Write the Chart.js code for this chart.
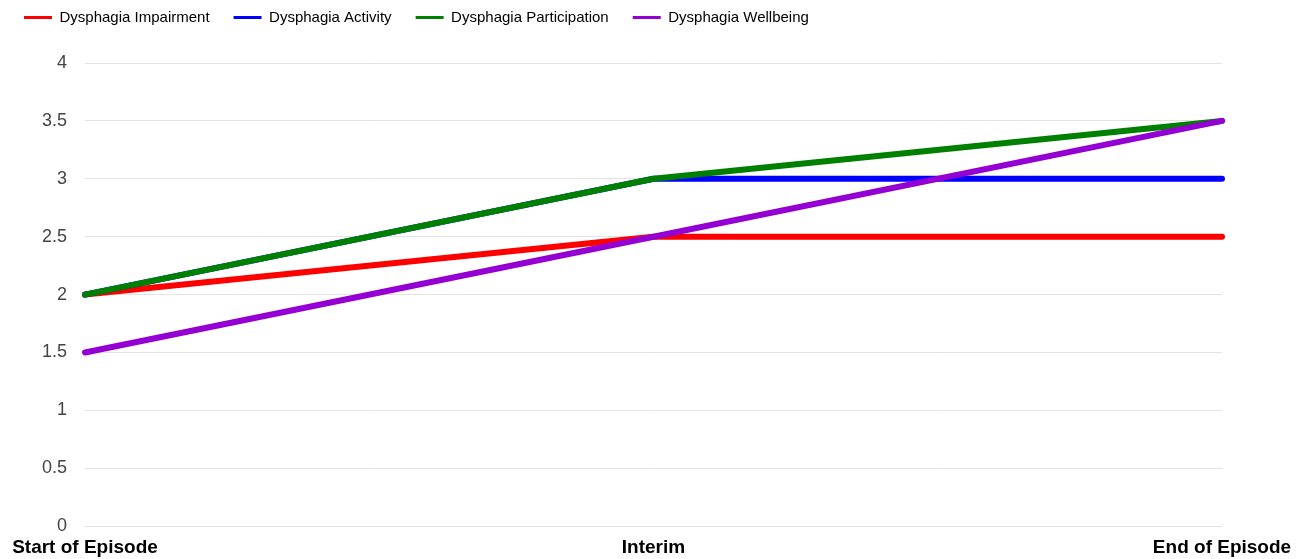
<!DOCTYPE html>
<html>
<head>
<meta charset="utf-8">
<script src="https://cdn.jsdelivr.net/npm/chart.js@4.4.0/dist/chart.umd.min.js"></script>
<style>
  html, body { margin: 0; padding: 0; background: #fff; }
  #wrap { width: 1308px; height: 559px; position: relative; }
</style>
</head>
<body>
<div id="wrap"><canvas id="chart"></canvas></div>
<script>
// data
const stages = ['Start of Episode', 'Interim', 'End of Episode'];
const impairment = [2, 2.5, 2.5];
const activity = [2, 3, 3];
const participation = [2, 3, 3.5];
const wellbeing = [1.5, 2.5, 3.5];
const seriesNames = ['Dysphagia Impairment', 'Dysphagia Activity', 'Dysphagia Participation', 'Dysphagia Wellbeing'];
const seriesColors = ['#ff0000', '#0000ff', '#008000', '#9400d3'];

const FONT = "'Liberation Sans', Arial, sans-serif";

// push the plot area down below the legend
const legendGap = {
  id: 'legendGap',
  beforeInit(chart) {
    const fit = chart.legend.fit;
    chart.legend.fit = function () {
      fit.bind(chart.legend)();
      this.height += 28;
    };
  }
};

const series = [impairment, activity, participation, wellbeing];
const datasets = series.map((vals, i) => ({
  label: seriesNames[i],
  data: vals,
  borderColor: seriesColors[i],
  backgroundColor: seriesColors[i],
  borderWidth: 6,
  borderCapStyle: 'round',
  borderJoinStyle: 'round',
  pointRadius: 0,
  pointHoverRadius: 0,
  tension: 0,
  order: series.length - i   // later series drawn on top
}));

new Chart(document.getElementById('chart'), {
  type: 'line',
  data: { labels: stages, datasets },
  plugins: [legendGap],
  options: {
    responsive: true,
    maintainAspectRatio: false,
    animation: false,
    layout: { padding: { left: 0, right: 86, top: -14, bottom: -10 } },
    plugins: {
      tooltip: { enabled: false },
      legend: {
        position: 'top',
        align: 'start',
        labels: {
          boxWidth: 28,
          boxHeight: 3,
          padding: 24,
          color: '#222',
          font: { family: FONT, size: 15 },
          generateLabels(chart) {
            return chart.data.datasets.map((ds, i) => ({
              text: ds.label,
              fillStyle: ds.borderColor,
              strokeStyle: ds.borderColor,
              lineWidth: 0,
              datasetIndex: i,
              hidden: false
            }));
          }
        }
      }
    },
    scales: {
      x: {
        offset: false,
        grid: { display: false, drawTicks: false },
        border: { display: false },
        ticks: {
          color: '#000',
          padding: 10,
          maxRotation: 0,
          font: { family: FONT, size: 19, weight: 'bold' }
        }
      },
      y: {
        min: 0,
        max: 4,
        afterFit(scale) { scale.width = 85; },
        grid: { color: '#e3e3e3', lineWidth: 1, drawTicks: false },
        border: { display: false },
        ticks: {
          stepSize: 0.5,
          color: '#444',
          padding: 18,
          font: { family: FONT, size: 18 },
          callback: v => String(v)
        }
      }
    }
  }
});
</script>
</body>
</html>
